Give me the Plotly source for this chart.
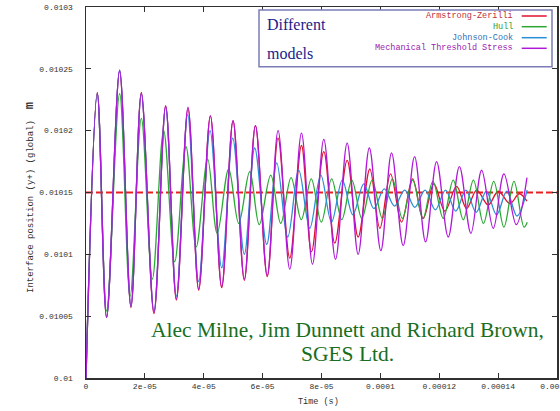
import plotly.graph_objects as go

US = 1e-6  # times below are read in microseconds

# ---- Mechanical Threshold Stress (extrema) ----
mts_t = [0, 3.84, 7.00, 11.42, 15.27, 18.80, 23.09, 27.06, 30.70, 34.65, 38.28,
         42.26, 46.10, 49.95, 53.79, 57.56, 61.57, 65.25, 69.22, 73.20, 76.94,
         80.78, 84.76, 88.71, 92.45, 96.25, 100.16, 103.80, 107.75, 111.62, 115.36,
         119.10, 123.05, 126.85, 130.76, 134.40, 138.35, 141.98, 146.17, 149.8]
mts_y = [0.01, 0.010230, 0.010049, 0.010249, 0.010058, 0.010230, 0.010053, 0.010220, 0.010064,
         0.010219, 0.010072, 0.010212, 0.010074, 0.010208, 0.010080, 0.010204, 0.010083,
         0.010200, 0.010088, 0.010198, 0.010092, 0.010193, 0.010096, 0.010190, 0.010100,
         0.010186, 0.010103, 0.010182, 0.010107, 0.010179, 0.010110, 0.010175, 0.010114,
         0.010171, 0.010117, 0.010168, 0.010121, 0.010165, 0.010124, 0.010162]

# ---- Armstrong-Zerilli ----
az_t = [0, 3.84, 7.00, 11.42, 15.27, 18.80, 23.09, 27.06, 30.70, 34.65, 38.28,
        42.26, 46.10, 49.95, 53.79, 57.56, 61.57, 65.25, 69.22, 73.20, 76.60,
        80.78, 84.52, 88.71, 92.45, 96.42, 99.82, 103.46, 107.20, 110.94, 114.55,
        118.18, 121.92, 125.90, 129.30, 132.70, 136.65, 140.05, 144.02, 147.19, 149.8]
az_y = [0.01, 0.010231, 0.010049, 0.010248, 0.010057, 0.010231, 0.010052, 0.010220, 0.010063,
        0.010218, 0.010071, 0.010212, 0.010073, 0.010208, 0.010079, 0.010204, 0.010082,
        0.010194, 0.010097, 0.010188, 0.010102, 0.010183, 0.010109, 0.010176, 0.010114,
        0.010169, 0.010121, 0.010165, 0.010126, 0.010161, 0.010129, 0.010157, 0.010135,
        0.010155, 0.010137, 0.010152, 0.010140, 0.010151, 0.010141, 0.010149, 0.010143]

# ---- Hull ----
hull_t = [0, 3.84, 7.00, 11.42, 14.99, 18.80, 22.54, 26.38, 30.12, 33.97, 37.43,
          41.34, 44.57, 48.48, 51.88, 55.62, 58.85, 62.76, 66.16, 69.67, 73.13,
          76.53, 79.93, 83.44, 86.90, 90.30, 93.70, 97.21, 100.67, 104.07, 107.47,
          110.98, 114.44, 117.84, 121.35, 124.75, 128.15, 131.61, 135.01, 138.52, 141.98,
          145.38, 148.78, 149.9]
hull_y = [0.01, 0.010230, 0.010054, 0.010230, 0.010066, 0.010210, 0.010080, 0.010200, 0.010094,
          0.010187, 0.010106, 0.010177, 0.010117, 0.010169, 0.010125, 0.010167, 0.010124,
          0.010164, 0.010125, 0.010162, 0.010128, 0.010161, 0.010126, 0.010161, 0.010128,
          0.010160, 0.010129, 0.010160, 0.010129, 0.010161, 0.010129, 0.010160, 0.010129,
          0.010159, 0.010129, 0.010160, 0.010128, 0.010160, 0.010125, 0.010159, 0.010122,
          0.010159, 0.010122, 0.010126]

# ---- Johnson-Cook ----
jc_t = [0, 3.84, 7.00, 11.42, 15.27, 18.80, 23.09, 27.06, 30.70, 34.54, 38.28,
        42.13, 46.10, 49.84, 53.79, 57.32, 61.40, 64.80, 68.54, 72.28, 76.02,
        79.76, 83.40, 87.07, 90.64, 94.38, 97.78, 101.32, 104.79, 108.26, 111.72,
        115.19, 118.66, 122.13, 125.60, 129.06, 132.53, 136.00, 139.47, 142.94, 146.40, 149.87]
jc_y = [0.01, 0.010230, 0.010049, 0.010249, 0.010058, 0.010230, 0.010054, 0.010219, 0.010066,
        0.010213, 0.010078, 0.010200, 0.010089, 0.010194, 0.010100, 0.010186, 0.010108,
        0.010174, 0.010114, 0.010168, 0.010121, 0.010164, 0.010126, 0.010160, 0.010132,
        0.010157, 0.010137, 0.010153, 0.010139, 0.010152, 0.010138, 0.010152, 0.010136,
        0.010152, 0.010135, 0.010152, 0.010134, 0.010151, 0.010132, 0.010151, 0.010131, 0.010152]

equilibrium_y = 0.01015
x_range = [0, 0.00016]
y_range = [0.01, 0.0103]

x_tickvals = [0, 2e-05, 4e-05, 6e-05, 8e-05, 0.0001, 0.00012, 0.00014, 0.00016]
x_ticktext = ["0", "2e-05", "4e-05", "6e-05", "8e-05", "0.0001", "0.00012", "0.00014", "0.00016"]
y_tickvals = [0.01, 0.01005, 0.0101, 0.01015, 0.0102, 0.01025, 0.0103]
y_ticktext = ["0.01", "0.01005", "0.0101", "0.01015", "0.0102", "0.01025", "0.0103"]

series_names = ["Armstrong-Zerilli", "Hull", "Johnson-Cook", "Mechanical Threshold Stress"]
series_t = [az_t, hull_t, jc_t, mts_t]
series_y = [az_y, hull_y, jc_y, mts_y]
line_colors = ["#e0102c", "#2aa832", "#2a8fd6", "#b018d8"]
text_colors = ["#c0303a", "#30a038", "#3070b8", "#9a20b0"]

fig = go.Figure()

# equilibrium dashed line
fig.add_trace(go.Scatter(x=x_range, y=[equilibrium_y, equilibrium_y], mode="lines",
                         line=dict(color="#e82020", width=2, dash="7px,3px"),
                         showlegend=False, hoverinfo="skip"))

for name, tt, yy, col in zip(series_names, series_t, series_y, line_colors):
    fig.add_trace(go.Scatter(x=[v * US for v in tt], y=yy, mode="lines", name=name,
                             line=dict(color=col, width=1.3, shape="spline", smoothing=1.0),
                             showlegend=False))

mono = "Liberation Mono, DejaVu Sans Mono, monospace"
serif = "Liberation Serif, DejaVu Serif, serif"

fig.update_layout(
    width=560, height=411,
    margin=dict(l=86, r=3, t=7, b=33, autoexpand=False),
    paper_bgcolor="white", plot_bgcolor="white",
    xaxis=dict(range=x_range, tickvals=x_tickvals, ticktext=x_ticktext,
               showgrid=False, zeroline=False, showline=True, linecolor="#303030",
               linewidth=1.5, mirror="ticks", ticks="inside", ticklen=5, tickcolor="#303030",
               ticklabeloverflow="allow", automargin=False,
               tickfont=dict(family=mono, size=8, color="#303030")),
    yaxis=dict(range=y_range, tickvals=y_tickvals, ticktext=y_ticktext,
               showgrid=False, zeroline=False, showline=True, linecolor="#303030",
               linewidth=1.5, mirror="ticks", ticks="inside", ticklen=5, tickcolor="#303030",
               ticklabelstandoff=10, automargin=False,
               tickfont=dict(family=mono, size=8, color="#303030")),
)

# legend box (custom, gnuplot style)
px_l, px_r, px_t, px_b = 86, 557, 7, 378
def xp(px):
    return (px - px_l) / (px_r - px_l)
def yp(py):
    return (px_b - py) / (px_b - px_t)

fig.add_shape(type="rect", xref="paper", yref="paper",
              x0=xp(259), x1=xp(552), y0=yp(66.7), y1=yp(10),
              line=dict(color="#7c7cb8", width=1.5), fillcolor="white")

rows_py = [16, 26.7, 37.7, 48.3]
for name, col, tcol, py in zip(series_names, line_colors, text_colors, rows_py):
    fig.add_annotation(xref="paper", yref="paper", x=xp(515), y=yp(py),
                       xanchor="right", yanchor="middle", showarrow=False,
                       text=name, font=dict(family=mono, size=8.5, color=tcol))
    fig.add_shape(type="line", xref="paper", yref="paper",
                  x0=xp(521.7), x1=xp(546.7), y0=yp(py), y1=yp(py),
                  line=dict(color=col, width=1.5))

fig.add_annotation(xref="paper", yref="paper", x=xp(265), y=yp(25),
                   xanchor="left", yanchor="middle", showarrow=False,
                   text="Different", font=dict(family=serif, size=16, color="#1c1c8c"))
fig.add_annotation(xref="paper", yref="paper", x=xp(265), y=yp(53),
                   xanchor="left", yanchor="middle", showarrow=False,
                   text="models", font=dict(family=serif, size=16, color="#1c1c8c"))

# credits
fig.add_annotation(xref="paper", yref="paper", x=xp(347), y=yp(330),
                   xanchor="center", yanchor="middle", showarrow=False,
                   text="Alec Milne, Jim Dunnett and Richard Brown,",
                   font=dict(family=serif, size=21.5, color="#1a6e22"))
fig.add_annotation(xref="paper", yref="paper", x=xp(347), y=yp(354),
                   xanchor="center", yanchor="middle", showarrow=False,
                   text="SGES Ltd.",
                   font=dict(family=serif, size=21.5, color="#1a6e22"))

# axis titles
fig.add_annotation(xref="paper", yref="paper", x=xp(318), y=yp(402),
                   xanchor="center", yanchor="middle", showarrow=False,
                   text="Time (s)", font=dict(family=mono, size=8.5, color="#303030"))
fig.add_annotation(xref="paper", yref="paper", x=xp(30), y=yp(198),
                   xanchor="center", yanchor="middle", showarrow=False, textangle=-90,
                   text="Interface position (y+) (global)  <b><span style='font-size:12px'>m</span></b>",
                   font=dict(family=mono, size=9, color="#303030"))

fig.write_html("out.html", config={"displayModeBar": False, "staticPlot": True},
               post_script="document.body.style.margin='0px';document.body.style.overflow='hidden';")
